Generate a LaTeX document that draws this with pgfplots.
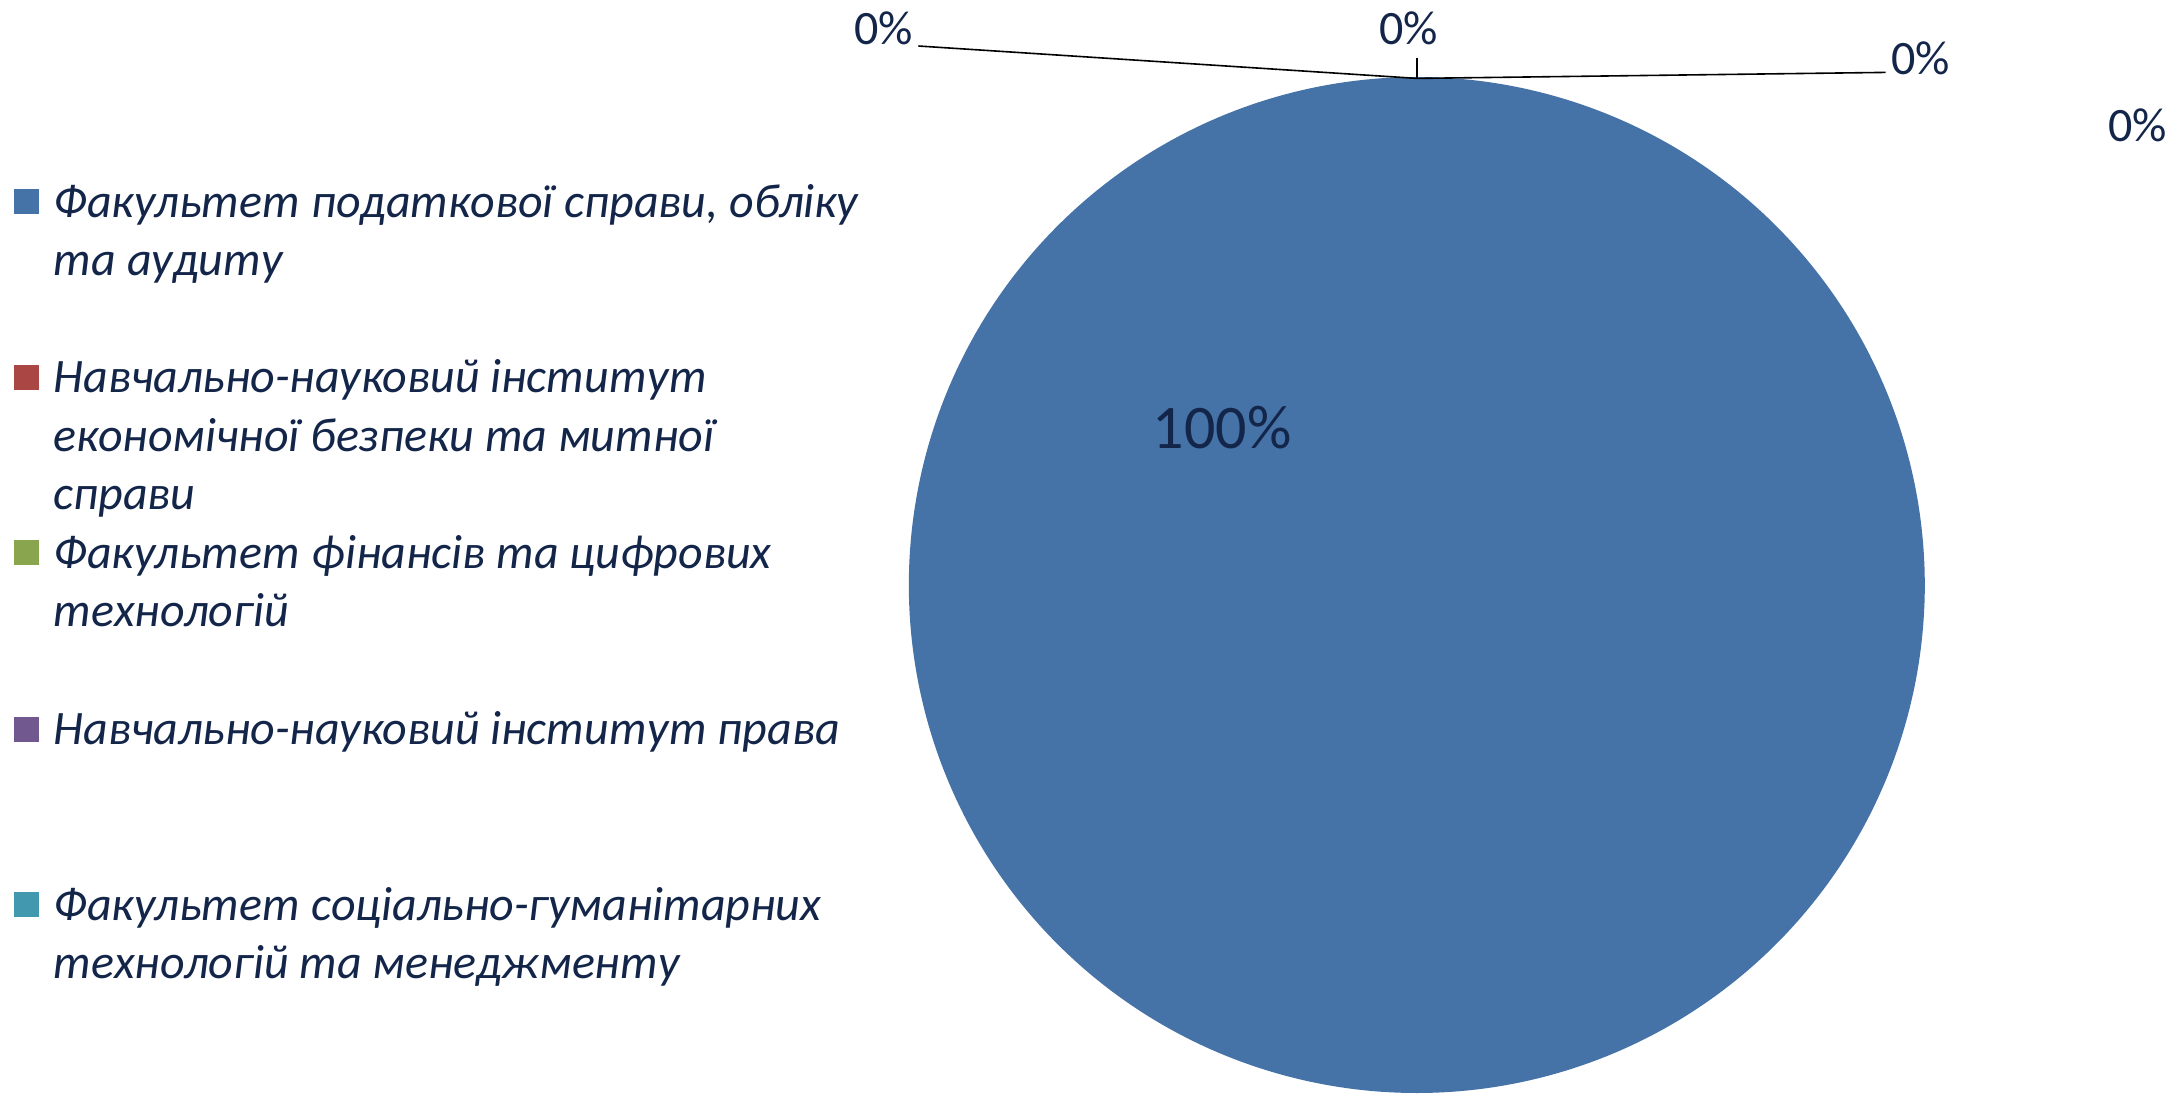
\documentclass[border=0pt]{standalone}
\usepackage{fontspec}
\setmainfont{Carlito}
\usepackage{pgfplots}
\usepackage{pgfplotstable}
\pgfplotsset{compat=1.18}
\definecolor{pieA}{HTML}{4572A7}
\definecolor{pieB}{HTML}{AA4643}
\definecolor{pieC}{HTML}{89A54E}
\definecolor{pieD}{HTML}{71588F}
\definecolor{pieE}{HTML}{4198AF}
\definecolor{txt}{HTML}{13264A}
\pgfplotstableread{
idx value
0 100
1 0
2 0
3 0
4 0
}\piedata
\begin{document}
\begin{tikzpicture}
\useasboundingbox (0,0) rectangle (545.5pt,-273.25pt);
\pgfplotstablegetelem{0}{value}\of\piedata
\let\vA\pgfplotsretval
\begin{axis}[hide axis, scale only axis, width=254pt, height=254pt,
  xmin=-1, xmax=1, ymin=-1, ymax=1, clip=false,
  at={(354.2pt,-146.25pt)}, anchor=center]
\addplot[fill=pieA, draw=none, domain=0:\vA, samples=361, variable=\t]
  ({sin(3.6*\t)},{cos(3.6*\t)}) -- (axis cs:0,0) -- cycle;
\end{axis}
% leader lines
\draw[black, line width=0.4pt] (229.6pt,-11.5pt) -- (354.2pt,-19.6pt) -- (471.4pt,-18.1pt);
\draw[black, line width=0.4pt] (354.2pt,-14.6pt) -- (354.2pt,-19.6pt);
% data labels
\begin{scope}[every node/.style={inner sep=0pt, text=txt, font=\fontsize{12}{14}\selectfont}]
\node at (220.9pt,-7.0pt) {0\%};
\node at (352.1pt,-7.0pt) {0\%};
\node at (480.1pt,-14.6pt) {0\%};
\node at (534.4pt,-31.3pt) {0\%};
\node[font=\fontsize{15.5}{18}\selectfont] at (305.5pt,-106.8pt) {100\%};
\end{scope}
% legend
\begin{scope}[every node/.style={inner sep=0pt, anchor=base west, text=txt, font=\itshape\fontsize{12}{14.6}\selectfont}]
\fill[pieA] (3.5pt,-47.3pt) rectangle (9.7pt,-53.5pt);
\node at (13.2pt,-54.3pt) {Факультет податкової справи, обліку};
\node at (13.2pt,-68.9pt) {та аудиту};
\fill[pieB] (3.5pt,-91.2pt) rectangle (9.7pt,-97.4pt);
\node at (13.2pt,-98.2pt) {Навчально-науковий інститут};
\node at (13.2pt,-112.8pt) {економічної безпеки та митної};
\node at (13.2pt,-127.4pt) {справи};
\fill[pieC] (3.5pt,-135.0pt) rectangle (9.7pt,-141.2pt);
\node at (13.2pt,-142.0pt) {Факультет фінансів та цифрових};
\node at (13.2pt,-156.6pt) {технологій};
\fill[pieD] (3.5pt,-179.2pt) rectangle (9.7pt,-185.4pt);
\node at (13.2pt,-186.2pt) {Навчально-науковий інститут права};
\fill[pieE] (3.5pt,-223.0pt) rectangle (9.7pt,-229.2pt);
\node at (13.2pt,-230.0pt) {Факультет соціально-гуманітарних};
\node at (13.2pt,-244.6pt) {технологій та менеджменту};
\end{scope}
\end{tikzpicture}
\end{document}
